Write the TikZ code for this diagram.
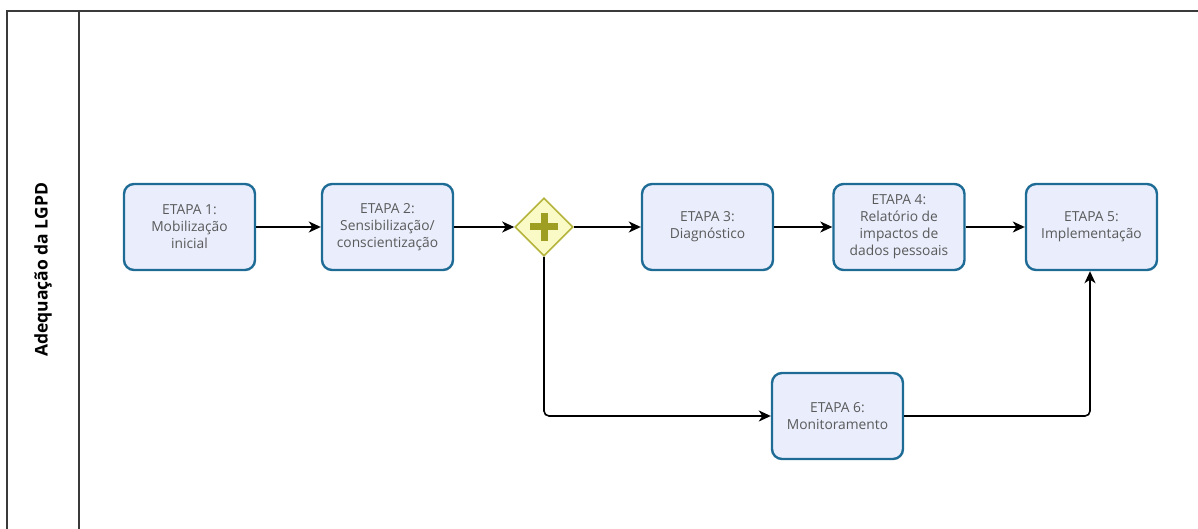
\documentclass[tikz,border=0pt]{standalone}
\usepackage{fontspec}
\setmainfont{Open Sans}
\usetikzlibrary{shapes.geometric,arrows.meta}
\definecolor{boxfill}{HTML}{E9EDFC}
\definecolor{boxdraw}{HTML}{1E6C96}
\definecolor{gwfill}{HTML}{FAFAC6}
\definecolor{gwdraw}{HTML}{B4B43C}
\definecolor{gwplus}{HTML}{9E9E22}
\definecolor{txt}{HTML}{5A5A5A}
\definecolor{lane}{HTML}{3A3A3A}
\tikzset{
  stepbox/.style={draw=boxdraw, fill=boxfill, line width=2.4pt, rounded corners=10pt,
    minimum width=131pt, minimum height=86pt, align=center, text=txt,
    font=\fontsize{13.8}{17}\selectfont, inner sep=2pt},
  gw/.style={diamond, draw=gwdraw, fill=gwfill, line width=1.6pt, minimum width=58pt, minimum height=58pt, inner sep=0pt},
  conn/.style={draw=black, line width=1.6pt, -{Stealth[length=12pt,width=11pt,inset=3.5pt]}, rounded corners=5pt},
  lanel/.style={draw=lane, line width=1.6pt},
  plusbar/.style={draw=gwplus, line width=7pt}
}
\begin{document}
\begin{tikzpicture}[x=1pt,y=-1pt]
\useasboundingbox (0,0) rectangle (1198,529);
% lane
\coordinate (tl) at (7,11);
\coordinate (tr) at (1198,11);
\coordinate (bl) at (7,529);
\coordinate (dt) at (79,11);
\coordinate (db) at (79,529);
\draw[lanel] (bl) -- (tl) -- (tr);
\draw[lanel] (dt) -- (db);
\node[rotate=90, font=\bfseries\fontsize{17.5}{20}\selectfont, text=black] (title) at (43,270) {Adequação da LGPD};
% nodes
\node[stepbox] (e1) at (189.5,227) {ETAPA 1:\\Mobilização\\inicial};
\node[stepbox] (e2) at (387.5,227) {ETAPA 2:\\Sensibilização/\\conscientização};
\node[gw] (g) at (544,227) {};
\draw[plusbar] (g.center) ++(-14,0) -- ++(28,0);
\draw[plusbar] (g.center) ++(0,-14) -- ++(0,28);
\node[stepbox] (e3) at (707.5,227) {ETAPA 3:\\Diagnóstico};
\node[stepbox] (e4) at (899,227) {ETAPA 4:\\Relatório de\\impactos de\\dados pessoais};
\node[stepbox] (e5) at (1091.5,227) {ETAPA 5:\\Implementação};
\node[stepbox] (e6) at (837.5,416) {ETAPA 6:\\Monitoramento};
% connectors
\draw[conn] (e1) -- (e2);
\draw[conn] (e2) -- (g);
\draw[conn] (g) -- (e3);
\draw[conn] (e3) -- (e4);
\draw[conn] (e4) -- (e5);
\draw[conn] (g.south) |- (e6.west);
\draw[conn] (e6.east) -| (e5.south -| 1090,0);
\end{tikzpicture}
\end{document}
